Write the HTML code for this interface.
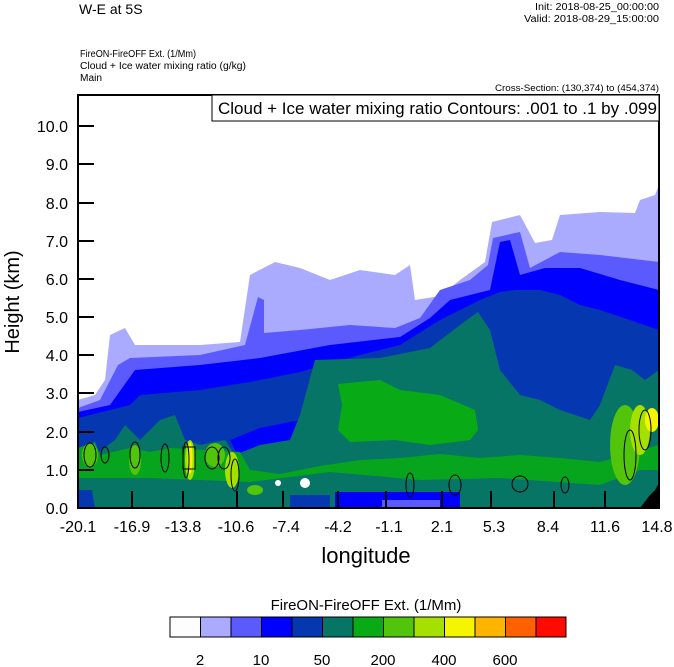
<!DOCTYPE html>
<html><head><meta charset="utf-8"><style>
body{margin:0;background:#fff;}
svg{display:block;font-family:"Liberation Sans",sans-serif;}
</style></head><body>
<svg width="674" height="667" viewBox="0 0 674 667" xmlns="http://www.w3.org/2000/svg">
<rect width="674" height="667" fill="#fff"/>
<text x="79" y="14" font-size="14">W-E at 5S</text>
<text x="659" y="10" font-size="10" text-anchor="end" textLength="124" lengthAdjust="spacingAndGlyphs">Init: 2018-08-25_00:00:00</text>
<text x="659" y="22" font-size="10" text-anchor="end" textLength="135" lengthAdjust="spacingAndGlyphs">Valid: 2018-08-29_15:00:00</text>
<text x="80" y="57" font-size="10" textLength="116" lengthAdjust="spacingAndGlyphs">FireON-FireOFF Ext.   (1/Mm)</text>
<text x="80" y="69" font-size="10" textLength="166" lengthAdjust="spacingAndGlyphs">Cloud + Ice water mixing ratio   (g/kg)</text>
<text x="80" y="81" font-size="10" textLength="22" lengthAdjust="spacingAndGlyphs">Main</text>
<text x="659" y="91" font-size="9" text-anchor="end" textLength="164" lengthAdjust="spacingAndGlyphs">Cross-Section: (130,374) to (454,374)</text>
<clipPath id="c"><rect x="78" y="95" width="581" height="413"/></clipPath>
<g clip-path="url(#c)">
<path fill="#aaaaff" d="M78,400 L95,395 L105,380 L110,335 L125,328 L135,345 L200,345 L240,342 L250,275 L275,262 L300,268 L330,280 L360,270 L395,275 L410,265 L415,300 L440,296 L460,280 L485,262 L492,222 L520,215 L535,243 L552,240 L560,215 L600,212 L635,213 L640,200 L655,195 L659,185 L659,508 L78,508Z"/>
<path fill="#5a5aff" d="M78,408 L100,400 L118,365 L130,358 L200,355 L245,345 L258,297 L264,300 L264,333 L300,330 L350,325 L395,328 L420,318 L440,290 L470,280 L488,265 L493,238 L520,232 L530,268 L545,260 L560,252 L600,255 L659,262 L659,508 L78,508Z"/>
<path fill="#0000ff" d="M78,412 L110,405 L135,370 L200,365 L260,358 L330,345 L400,337 L430,318 L450,300 L490,290 L500,242 L510,240 L520,275 L545,268 L580,268 L620,280 L659,290 L659,508 L78,508Z"/>
<path fill="#0437b0" d="M78,418 L130,405 L140,395 L200,390 L250,382 L300,372 L360,355 L400,345 L440,320 L480,300 L500,292 L515,290 L540,290 L560,295 L580,305 L600,310 L630,320 L659,330 L659,508 L78,508Z"/>
<path fill="#0000ff" d="M230,440 L260,428 L300,420 L325,430 L330,455 L280,465 L240,460Z"/>
<path fill="#067565" d="M78,468 L95,455 L115,440 L125,425 L140,440 L160,420 L175,415 L185,440 L200,445 L225,440 L235,455 L260,445 L290,440 L300,415 L315,360 L380,358 L430,348 L460,325 L478,312 L490,330 L500,370 L520,395 L540,400 L560,410 L590,420 L600,405 L615,365 L632,370 L645,380 L659,370 L659,508 L78,508Z"/>
<path fill="#08ab16" d="M78,448 L95,442 L100,455 L130,448 L150,452 L170,448 L200,450 L240,452 L250,470 L280,474 L320,466 L360,460 L400,458 L440,454 L480,458 L520,455 L560,458 L600,462 L659,445 L659,508 L78,508Z" opacity="0.9"/>
<path fill="#067565" d="M78,478 L150,478 L250,482 L330,472 L420,480 L500,478 L600,485 L640,470 L659,470 L659,508 L78,508Z"/>
<path fill="#08ab16" d="M338,384 L380,380 L400,390 L440,395 L475,410 L478,430 L470,440 L430,445 L395,440 L350,442 L338,430 L342,405Z"/>
<path fill="#0437b0" d="M78,490 L92,490 L95,508 L78,508Z"/>
<path fill="#0000ff" d="M335,492 L460,492 L460,508 L335,508Z"/>
<path fill="#5a5aff" d="M382,500 L440,500 L440,508 L382,508Z"/>
<path fill="#0437b0" d="M290,495 L330,495 L330,508 L290,508Z"/>
<ellipse cx="90" cy="455" rx="8" ry="12" fill="#52c40c"/>
<ellipse cx="135" cy="460" rx="6" ry="15" fill="#52c40c"/>
<ellipse cx="190" cy="460" rx="5" ry="20" fill="#a5e000"/>
<ellipse cx="190" cy="458" rx="2.5" ry="16" fill="#f5f500"/>
<ellipse cx="215" cy="455" rx="10" ry="12" fill="#52c40c"/>
<ellipse cx="232" cy="470" rx="7" ry="18" fill="#a5e000"/>
<ellipse cx="255" cy="490" rx="8" ry="5" fill="#52c40c"/>
<ellipse cx="278" cy="483" rx="3" ry="3" fill="#fff"/>
<ellipse cx="305" cy="483" rx="5" ry="5" fill="#fff"/>
<ellipse cx="625" cy="445" rx="15" ry="40" fill="#52c40c"/>
<ellipse cx="640" cy="430" rx="10" ry="25" fill="#a5e000"/>
<ellipse cx="652" cy="420" rx="7" ry="12" fill="#f5f500"/>
<path fill="#000" d="M640,508 L650,495 L655,490 L659,483 L659,508Z"/>
<g fill="none" stroke="#000" stroke-width="1">
<ellipse cx="90" cy="455" rx="6" ry="12"/>
<ellipse cx="105" cy="455" rx="4" ry="8"/>
<ellipse cx="135" cy="455" rx="5" ry="13"/>
<ellipse cx="165" cy="458" rx="4" ry="14"/>
<ellipse cx="186" cy="460" rx="3" ry="18"/>
<rect x="183" y="447" width="12" height="22"/>
<ellipse cx="212" cy="458" rx="7" ry="11"/>
<ellipse cx="224" cy="458" rx="6" ry="11"/>
<ellipse cx="235" cy="475" rx="4" ry="16"/>
<ellipse cx="410" cy="485" rx="4" ry="12"/>
<ellipse cx="455" cy="485" rx="6" ry="10"/>
<ellipse cx="520" cy="484" rx="8" ry="8"/>
<ellipse cx="630" cy="455" rx="6" ry="25"/>
<ellipse cx="645" cy="430" rx="6" ry="20"/>
<ellipse cx="565" cy="485" rx="4" ry="8"/>
</g>
</g>
<rect x="78" y="95" width="581" height="413" fill="none" stroke="#000" stroke-width="2"/>
<rect x="212" y="95" width="447" height="26" fill="#fff" stroke="#000" stroke-width="1"/>
<text x="218" y="114" font-size="17">Cloud + Ice water mixing ratio Contours: .001 to .1 by .099</text>
<g stroke="#000" stroke-width="2">
<line x1="78" y1="126" x2="94" y2="126"/><line x1="78" y1="164" x2="94" y2="164"/><line x1="78" y1="203" x2="94" y2="203"/><line x1="78" y1="241" x2="94" y2="241"/><line x1="78" y1="279" x2="94" y2="279"/><line x1="78" y1="317" x2="94" y2="317"/><line x1="78" y1="355" x2="94" y2="355"/><line x1="78" y1="393" x2="94" y2="393"/><line x1="78" y1="432" x2="94" y2="432"/><line x1="78" y1="470" x2="94" y2="470"/>
<line x1="132" y1="508" x2="132" y2="491"/><line x1="183" y1="508" x2="183" y2="491"/><line x1="237" y1="508" x2="237" y2="491"/><line x1="283" y1="508" x2="283" y2="491"/><line x1="338" y1="508" x2="338" y2="491"/><line x1="386" y1="508" x2="386" y2="491"/><line x1="442" y1="508" x2="442" y2="491"/><line x1="491" y1="508" x2="491" y2="491"/><line x1="554" y1="508" x2="554" y2="491"/><line x1="605" y1="508" x2="605" y2="491"/>
</g>
<g font-size="16" text-anchor="end">
<text x="68" y="132">10.0</text><text x="68" y="170">9.0</text><text x="68" y="209">8.0</text><text x="68" y="247">7.0</text><text x="68" y="285">6.0</text><text x="68" y="323">5.0</text><text x="68" y="361">4.0</text><text x="68" y="399">3.0</text><text x="68" y="438">2.0</text><text x="68" y="476">1.0</text><text x="68" y="514">0.0</text>
</g>
<g font-size="16" text-anchor="middle">
<text x="78" y="532">-20.1</text><text x="132" y="532">-16.9</text><text x="183" y="532">-13.8</text><text x="236" y="532">-10.6</text><text x="286" y="532">-7.4</text><text x="338" y="532">-4.2</text><text x="389" y="532">-1.1</text><text x="442" y="532">2.1</text><text x="494" y="532">5.3</text><text x="548" y="532">8.4</text><text x="605" y="532">11.6</text><text x="657" y="532">14.8</text>
</g>
<text x="366" y="563" font-size="22" text-anchor="middle">longitude</text>
<text transform="translate(19,302) rotate(-90)" font-size="20" text-anchor="middle">Height (km)</text>
<text x="366" y="610" font-size="15" text-anchor="middle">FireON-FireOFF Ext.  (1/Mm)</text>
<g stroke="#000" stroke-width="1">
<rect x="170" y="617" width="30.5" height="20" fill="#fdfdfd"/>
<rect x="200.5" y="617" width="30.5" height="20" fill="#aaaaff"/>
<rect x="231" y="617" width="30.5" height="20" fill="#5a5aff"/>
<rect x="261.5" y="617" width="30.5" height="20" fill="#0000ff"/>
<rect x="292" y="617" width="30.5" height="20" fill="#0437b0"/>
<rect x="322.5" y="617" width="30.5" height="20" fill="#067565"/>
<rect x="353" y="617" width="30.5" height="20" fill="#08ab16"/>
<rect x="383.5" y="617" width="30.5" height="20" fill="#52c40c"/>
<rect x="414" y="617" width="30.5" height="20" fill="#a5e000"/>
<rect x="444.5" y="617" width="30.5" height="20" fill="#f5f500"/>
<rect x="475" y="617" width="30.5" height="20" fill="#ffb400"/>
<rect x="505.5" y="617" width="30.5" height="20" fill="#ff6000"/>
<rect x="536" y="617" width="30" height="20" fill="#ff0a00"/>
</g>
<g font-size="15" text-anchor="middle">
<text x="200" y="665">2</text><text x="261" y="665">10</text><text x="322" y="665">50</text><text x="383" y="665">200</text><text x="444" y="665">400</text><text x="505" y="665">600</text>
</g>
</svg>
</body></html>
